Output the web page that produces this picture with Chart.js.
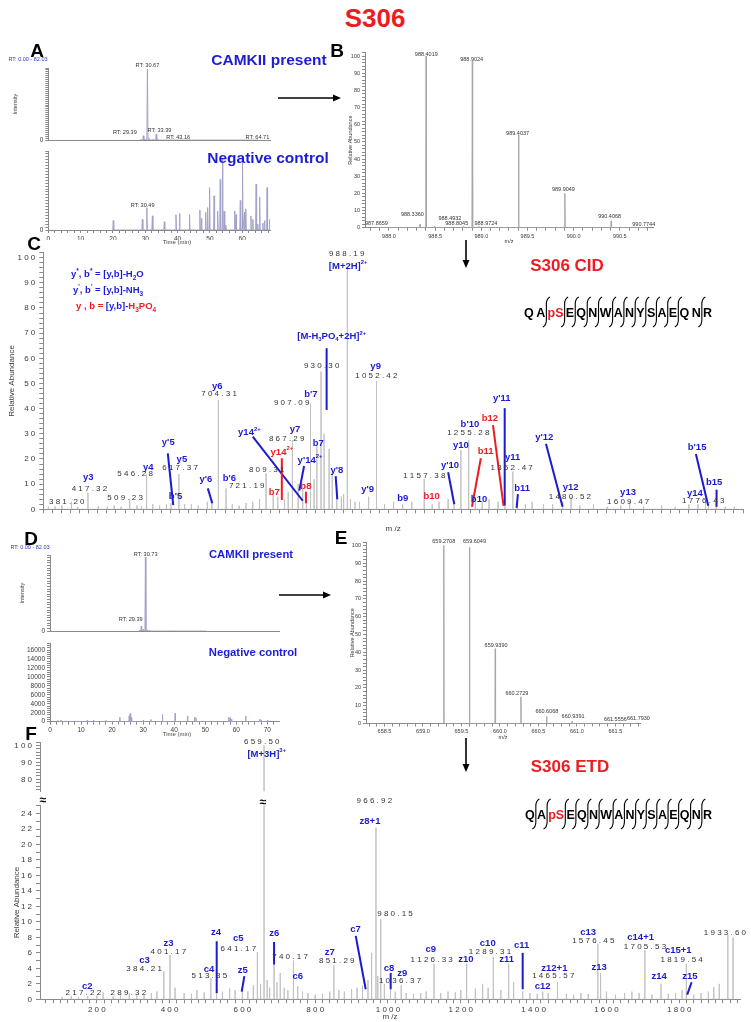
<!DOCTYPE html>
<html>
<head>
<meta charset="utf-8">
<title>S306</title>
<script src="https://cdn.jsdelivr.net/npm/chart.js@4.4.1/dist/chart.umd.min.js"></script>
<style>
  html, body { margin: 0; padding: 0; background: #fff; }
  #page { position: relative; width: 751px; height: 1022px; overflow: hidden; font-family: "Liberation Sans", Arial, sans-serif; }
  #page canvas { position: absolute; }
  #page svg { position: absolute; left: 0; top: 0; }
  .lbl { position: absolute; white-space: nowrap; transform: translate(-50%, -50%); line-height: 1; }
  .panel { font-weight: bold; font-size: 19px; color: #000; }
  .blue { color: #1d1dd8; font-weight: bold; }
  .red { color: #ee1b23; font-weight: bold; }
  .tiny { font-size: 5.5px; color: #444; }
  .legend { font-size: 9.5px; font-weight: bold; color: #1d1dd8; transform: translate(0, -50%); }
  .legend sub, .legend sup { font-size: 6.5px; line-height: 0; }
</style>
</head>
<body>
<div id="page"></div>
<script>
// ---------------- data ----------------
// A: extracted ion chromatograms, CAMKII present / negative control (min, intensity)
const rtA1 = [28.6, 29.39, 29.9, 30.67, 31.3, 32.4, 33.39, 34.1, 43.16, 64.71];
const intA1 = [15000, 110000, 25000, 1800000, 45000, 20000, 150000, 15000, 9000, 9000];
const rtA2 = [20.1, 29.1, 30.49, 32.2, 35.9, 39.5, 40.6, 43.7, 46.9, 47.4, 48.7, 49.3, 49.9, 51.3, 52.4, 53.2, 53.9, 54.4, 54.8,
              57.7, 58.1, 59.4, 60.1, 60.7, 61.1, 62.7, 63.3, 64.3, 64.8, 65.4, 66.4, 66.9, 67.7, 68.5];
const intA2 = [800, 900, 1900, 1200, 700, 1300, 1400, 1300, 1700, 1000, 1500, 1900, 3600, 2900, 1600, 4300, 6000, 1600, 400,
               1600, 1300, 2500, 6000, 1500, 1800, 1200, 900, 3900, 500, 2800, 600, 800, 3600, 900];
const rtLabelsA1 = [["RT: 30.67", 30.67, 1900000], ["RT: 29.39", 23.7, 195000], ["RT: 33.39", 34.4, 234000],
                    ["RT: 43.16", 40.2, 63000], ["RT: 64.71", 64.7, 77000]];
const rtLabelsA2 = [["RT: 30.49", 29.2, 2060]];

// B: precursor isotope cluster (m/z, relative abundance)
const mzB = [987.8659, 988.3360, 988.4019, 988.4932, 988.8045, 988.9024, 988.9724, 989.4037, 989.9049, 990.4068, 990.7744];
const abB = [0.5, 2, 100, 1, 0.6, 97, 0.8, 54, 20, 4, 0.4];
const labelsB = [["988.4019", 988.404, 101], ["988.9024", 988.896, 98.2], ["989.4037", 989.393, 55], ["989.9049", 989.89, 22],
                 ["990.4068", 990.39, 6.6], ["990.7744", 990.76, 2], ["987.8659", 987.864, 2.2], ["988.3360", 988.253, 7.8],
                 ["988.4932", 988.66, 5.5], ["988.8045", 988.734, 2.2], ["988.9724", 989.05, 2.6]];

// C: CID MS/MS spectrum
const mzC = [330, 345, 360, 381.20, 395, 417.32, 440, 460, 475, 490, 509.23, 525, 535, 546.28, 560, 575, 590, 600, 617.37, 630,
             645, 660, 680, 690, 704.31, 721.19, 735, 750, 765, 780, 795, 809.31, 825, 835, 850, 858, 867.29, 880, 890, 898,
             907.09, 915, 921, 930.30, 937, 948, 955, 965, 975, 980, 988.19, 995, 1005, 1015, 1035, 1052.42, 1070, 1090, 1110,
             1130, 1157.38, 1175, 1190, 1210, 1223, 1238, 1255.28, 1270, 1285, 1300, 1320, 1335, 1352.47, 1362, 1380, 1395,
             1420, 1440, 1462, 1480.52, 1500, 1530, 1560, 1590, 1609.47, 1640, 1680, 1710, 1740, 1760, 1776.43, 1783, 1800,
             1820, 1840];
const abC = [1, 1.2, 1.5, 3, 1, 6.5, 1.2, 1, 1.5, 1, 4, 1.5, 1.2, 14, 2, 1.5, 2, 2.5, 14, 2,
             2, 1.5, 3, 2.5, 43.5, 8.3, 2, 1.5, 2.5, 3, 4, 14.3, 6, 5, 4, 7, 27.5, 10, 8, 6,
             42, 12, 25, 54.7, 30, 24, 15, 8, 5, 6, 96, 4, 3, 3, 5, 51, 2, 3, 2,
             3, 12, 2, 3, 4, 2, 23.5, 27.5, 3, 3, 4, 3, 5, 15, 2, 2, 3,
             2, 2, 3, 5, 1.5, 2, 1, 1.5, 3, 1, 1.5, 1, 2, 2, 3, 2, 2,
             1, 1];
const valuesC = [["381.20", 370.6, 3.0], ["417.32", 420.5, 8.3], ["509.23", 499, 4.4], ["546.28", 521, 14.3],
                 ["617.37", 620, 16.3], ["704.31", 705.8, 45.8], ["721.19", 766.7, 9.3], ["809.31", 810.7, 15.6],
                 ["867.29", 854.7, 27.9], ["907.09", 865.7, 42.5], ["930.30", 931.7, 57.1], ["988.19", 986.7, 101.7],
                 ["1052.42", 1052, 53], ["1157.38", 1157.5, 13.4], ["1255.28", 1254.3, 30.4], ["1352.47", 1349.8, 16.5],
                 ["1480.52", 1478, 4.8], ["1609.47", 1606.3, 3], ["1776.43", 1771.4, 3.3]];
const ionsC = [["y3", 418, 12.7], ["y4", 550, 16.5], ["y'5", 594, 26.6], ["y5", 624, 20], ["b'5", 610, 5], ["y'6", 677, 12],
               ["y6", 702, 49], ["b'6", 728.5, 12.3], ["y14^{2+}", 772.5, 30.4], ["y7", 873, 31.8], ["b'7", 908, 45.8],
               ["b7", 924, 26.2], ["y'14^{2+}", 906, 19.6], ["[M-H_{3}PO_{4}+2H]^{2+}", 953.7, 68.6], ["[M+2H]^{2+}", 990, 96.7],
               ["y'8", 965, 15.6], ["y'9", 1033, 8], ["y9", 1050.5, 56.7], ["b9", 1110, 4.2], ["y'10", 1214, 17.5],
               ["y10", 1238, 25.3], ["b'10", 1258, 33.8], ["b10", 1278, 4], ["y'11", 1328, 44], ["y11", 1352, 20.5],
               ["b11", 1373, 8.3], ["y'12", 1421.6, 28.5], ["y12", 1479.5, 8.7], ["y13", 1606, 6.6], ["b'15", 1758, 24.6],
               ["b15", 1795.6, 10.7], ["y14", 1753, 6.4]];
const ionsCRed = [["y14^{2+}", 844, 22.6], ["b7", 827.5, 6.6], ["b8", 897, 9], ["b10", 1173.7, 5.3], ["b11", 1292.5, 23.2],
                  ["b12", 1302, 36.2]];
const leadersC = [[593, 22.2, 605, 1.7], [681, 8.3, 691, 2.4], [780, 28.9, 890, 3.4], [893, 17.2, 882.5, 7.4],
                  [942.6, 64, 942.6, 39.5], [962.5, 13.2, 966, 4], [1210, 14.7, 1223.5, 2], [1334.5, 40.2, 1334.5, 1.5],
                  [1363.6, 6, 1360.8, 0.6], [1425.3, 26, 1461.9, 1], [1755.3, 22, 1782.5, 1.4], [1800.8, 7.8, 1800.8, 1]];
const leadersCRed = [[844, 20.3, 844, 3.7], [897, 7, 897, 2.4], [1282, 20.3, 1262.5, 1], [1308.7, 33.4, 1332, 1.4]];

// D: chromatograms for the ETD precursor
const rtD1 = [28.8, 29.39, 30.0, 30.73, 31.4, 32.2, 40.5, 50];
const intD1 = [8000, 45000, 15000, 700000, 12000, 8000, 3000, 3000];
const rtD2 = [2.5, 3.5, 5, 9, 12, 14, 18, 22.5, 25.5, 25.8, 26.2, 30, 32.5, 36.2, 40.3, 44.3, 46.5, 47, 57.5, 58, 58.5, 63, 67.5, 68, 70];
const intD2 = [300, 400, 200, 200, 300, 400, 300, 1000, 1300, 1800, 900, 300, 500, 1600, 1900, 1300, 1000, 900, 1000, 900, 600, 1300, 600, 400, 300];
const rtLabelsD1 = [["RT: 30.73", 30.8, 729000], ["RT: 29.39", 26, 112000]];

// E: triply charged precursor isotope cluster
const mzE = [659.2708, 659.6049, 659.9390, 660.2729, 660.6068, 660.9391, 661.5556, 661.7930];
const abE = [100, 99, 42, 15, 4, 1.2, 0.5, 0.5];
const labelsE = [["659.2708", 659.27, 102.3], ["659.6049", 659.67, 102.3], ["659.9390", 659.95, 43.8], ["660.2729", 660.22, 17],
                 ["660.6068", 660.61, 7], ["660.9391", 660.95, 4], ["661.5556", 661.5, 2.5], ["661.7930", 661.8, 3]];

// F: ETD MS/MS spectrum (broken intensity axis)
const mzF = [105, 130, 150, 175, 200, 217.22, 245, 265, 289.32, 310, 330, 350, 365, 384.21, 401.17, 415, 440, 460, 475, 495,
             513.35, 529, 545, 565, 580, 600, 615, 630, 641.17, 650, 659.50, 668, 675, 687, 695, 704, 715, 725, 740.17, 752,
             765, 780, 800, 820, 840, 851.29, 865, 880, 900, 915, 930, 945, 955, 966.92, 972, 980.15, 990, 1007, 1020, 1036.37,
             1050, 1070, 1090, 1105, 1126.33, 1145, 1165, 1185, 1200, 1216, 1240, 1260, 1275, 1289.31, 1310, 1331.5, 1345, 1370,
             1390, 1410, 1425, 1440, 1465.57, 1490, 1510, 1530, 1550, 1576.45, 1584, 1600, 1625, 1650, 1670, 1690, 1705.53,
             1725, 1750, 1770, 1790, 1808, 1819.54, 1840, 1860, 1880, 1895, 1910, 1933.60, 1948];
const abF = [0.3, 0.4, 0.3, 0.4, 0.5, 0.9, 0.4, 0.5, 0.8, 0.5, 0.6, 0.8, 1.0, 3.6, 5.7, 1.5, 0.8, 0.7, 1.2, 0.9,
             2.7, 1.3, 1.0, 1.4, 1.2, 1.5, 1.0, 1.8, 6.1, 2.0, 100, 2.5, 1.5, 4.6, 2.2, 3.4, 1.5, 1.2, 5.0, 1.7,
             1.0, 0.8, 0.6, 0.7, 1.0, 4.4, 1.2, 1.0, 1.3, 1.5, 1.8, 2.5, 6.0, 22.2, 3.0, 10.4, 2.0, 1.5, 1.0, 1.8,
             0.8, 0.7, 0.8, 1.0, 4.6, 0.8, 1.0, 0.9, 1.2, 4.6, 1.4, 2.0, 1.5, 5.5, 1.2, 4.6, 2.2, 1.0,
             0.8, 0.7, 1.0, 0.8, 2.2, 0.7, 0.6, 0.8, 0.7, 7.2, 3.4, 1.0, 0.6, 0.8, 1.0, 0.8, 6.3,
             0.6, 2.0, 0.7, 0.8, 1.2, 4.6, 0.6, 0.8, 1.0, 1.6, 2.0, 8.3, 8.0];
const valuesF = [["217.22", 163.2, 0.9], ["289.32", 286.8, 0.9], ["384.21", 330, 3.9], ["401.17", 396.7, 6.2],
                 ["513.35", 509.3, 3.0], ["641.17", 588.9, 6.5], ["740.17", 730.9, 5.5], ["851.29", 859.2, 5.0],
                 ["966.92", 962.5, 25.7], ["980.15", 1019.3, 11], ["1036.37", 1033, 2.4], ["1126.33", 1120, 5.1],
                 ["1289.31", 1280.2, 6.1], ["1465.57", 1454, 3.0], ["1576.45", 1564, 7.5], ["1705.53", 1705.9, 6.8],
                 ["1819.54", 1806.7, 5.1], ["1933.60", 1925.6, 8.6]];
const valuesFTop = [["659.50", 653.2, 101.9]];
const ionsF = [["c2", 174, 1.7], ["c3", 331, 5], ["z3", 397, 7.2], ["c4", 508.4, 3.9], ["z4", 527.6, 8.6], ["c5", 588.9, 7.9],
               ["z5", 601, 3.7], ["z6", 687.8, 8.5], ["c6", 752, 3.0], ["z7", 840.3, 6.1], ["c7", 911, 9], ["z8+1", 950.6, 23],
               ["c8", 1003, 4], ["z9", 1039.4, 3.3], ["c9", 1117.4, 6.4], ["z10", 1214, 5.1], ["c10", 1274, 7.2], ["z11", 1326, 5.1],
               ["c11", 1367, 7], ["z12+1", 1457, 4], ["c12", 1425, 1.7], ["c13", 1550, 8.7], ["z13", 1580, 4.1], ["c14+1", 1694, 8],
               ["z14", 1745, 3], ["c15+1", 1797.4, 6.3], ["z15", 1829.5, 2.9]];
const ionsFTop = [["[M+3H]^{3+}", 666.9, 95]];
const leadersF = [[529.4, 7.5, 529.4, 0.8], [605.4, 3.0, 598.2, 1.0], [687, 7.4, 687, 4.5], [911.3, 8.2, 938.7, 1.3],
                  [1007.4, 3.4, 1007.4, 1.3], [1370, 6, 1370, 1.3], [1834, 2.2, 1822, 0.6]];

const peptide = ["Q", "A", "pS", "E", "Q", "N", "W", "A", "N", "Y", "S", "A", "E", "Q", "N", "R"];
const cidCleaved = [false, true, true, true, true, true, true, true, true, true, true, true, true, false, true];
const etdCleaved = [true, true, true, true, true, true, true, true, true, true, true, true, true, true, true];

// ---------------- helpers ----------------
const SANS = '"Liberation Sans", Arial, sans-serif';
const BLUE = '#1b1bd0';
const RED = '#ee1b23';
const AXIS = '#8a8a8a';
Chart.defaults.font.family = SANS;

const page = document.getElementById('page');

function spaced(s) { return String(s).split('').join(' '); }

function sticks(xs, ys, half) {
    const idx = xs.map((_, i) => i).sort((a, b) => xs[a] - xs[b]);
    const pts = [];
    idx.forEach(i => {
        pts.push({x: xs[i] - half, y: 0}, {x: xs[i], y: ys[i]}, {x: xs[i] + half, y: 0});
    });
    return pts;
}

function fontStr(size, bold) { return (bold ? 'bold ' : '') + size + 'px ' + SANS; }

// text with ^{sup} and _{sub} runs, centred on (x, y)
function drawRich(ctx, str, x, y, size, color, bold) {
    const parts = [];
    str.split(/(\^\{[^}]*\}|_\{[^}]*\})/).forEach(p => {
        if (!p) return;
        if (p.startsWith('^{')) parts.push({t: p.slice(2, -1), s: 0.62, dy: -0.38});
        else if (p.startsWith('_{')) parts.push({t: p.slice(2, -1), s: 0.62, dy: 0.28});
        else parts.push({t: p, s: 1, dy: 0});
    });
    const widths = parts.map(p => { ctx.font = fontStr(p.s * size, bold); return ctx.measureText(p.t).width; });
    let cx = x - widths.reduce((a, b) => a + b, 0) / 2;
    ctx.fillStyle = color;
    ctx.textAlign = 'left';
    ctx.textBaseline = 'middle';
    parts.forEach((p, i) => {
        ctx.font = fontStr(p.s * size, bold);
        ctx.fillText(p.t, cx, y + p.dy * size);
        cx += widths[i];
    });
}

// annotation plugin: labels and leader lines placed in data units
function marks(spec) {
    return {
        id: 'marks',
        afterDatasetsDraw(chart) {
            const ctx = chart.ctx, xs = chart.scales.x, ys = chart.scales.y;
            ctx.save();
            (spec.lines || []).forEach(g => {
                ctx.strokeStyle = g.color;
                ctx.lineWidth = g.width;
                g.items.forEach(l => {
                    ctx.beginPath();
                    ctx.moveTo(xs.getPixelForValue(l[0]), ys.getPixelForValue(l[1]));
                    ctx.lineTo(xs.getPixelForValue(l[2]), ys.getPixelForValue(l[3]));
                    ctx.stroke();
                });
            });
            (spec.texts || []).forEach(g => {
                g.items.forEach(t => {
                    const s = g.spaced ? spaced(t[0]) : t[0];
                    drawRich(ctx, s, xs.getPixelForValue(t[1]), ys.getPixelForValue(t[2]), g.size, g.color, g.bold);
                });
            });
            ctx.restore();
        }
    };
}

function isStep(v, every) { return Math.abs(v / every - Math.round(v / every)) < 1e-6; }

function axis(o) {
    const horiz = o.pos === 'bottom';
    return {
        type: 'linear', position: o.pos, min: o.min, max: o.max, display: o.display !== false,
        afterFit: s => { if (horiz) s.height = o.box; else s.width = o.box; },
        border: {display: true, color: AXIS, width: 1},
        grid: {display: true, drawOnChartArea: false, drawTicks: o.ticks !== false, tickLength: o.tickLen || 3, color: AXIS},
        ticks: {
            display: o.labels !== false, stepSize: o.step, autoSkip: false, includeBounds: false,
            maxRotation: 0, minRotation: 0, padding: o.pad == null ? 2 : o.pad,
            font: {size: o.size || 6.5}, color: '#3a3a3a',
            callback: v => isStep(v, o.every) ? o.fmt(v) : ''
        },
        title: o.title ? {display: true, text: o.title, font: {size: o.titleSize || 6}, color: '#3a3a3a',
                          padding: {top: o.titlePad || 0, bottom: 0}} : {display: false}
    };
}

// place a chart so that its plot area lands on [l, r] x [t, b] of the page
function plot(box, datasets, xo, yo, spec) {
    const L = Math.floor(box.l - box.yw), T = Math.floor(box.t - box.padT);
    const W = Math.ceil(box.r + box.padR) - L, H = Math.ceil(box.b + box.xh) - T;
    const c = document.createElement('canvas');
    c.width = W; c.height = H;
    c.style.left = L + 'px'; c.style.top = T + 'px';
    c.style.width = W + 'px'; c.style.height = H + 'px';
    page.appendChild(c);
    xo.pos = 'bottom'; xo.box = Math.ceil(box.b + box.xh) - box.b;
    yo.pos = 'left'; yo.box = box.l - L;
    return new Chart(c, {
        type: 'line',
        data: {datasets: datasets},
        options: {
            responsive: false, animation: false, devicePixelRatio: 1,
            layout: {padding: {left: 0, top: box.t - T, right: L + W - box.r, bottom: 0}},
            plugins: {legend: {display: false}, tooltip: {enabled: false}},
            elements: {point: {radius: 0}, line: {tension: 0}},
            scales: {x: axis(xo), y: axis(yo)}
        },
        plugins: [marks(spec || {})]
    });
}

function trace(pts, color, width) {
    return {data: pts, borderColor: color, borderWidth: width || 1, pointRadius: 0, fill: false};
}

const chromColor = '#a3a3c8';
const stickColor = '#c2c2c2';
const num = v => String(Math.round(v));
const fix1 = v => v.toFixed(1);
const sp = v => spaced(Math.round(v));
const rtText = items => ({items: items, size: 5.6, color: '#333'});

// ---------------- panel A ----------------
plot({l: 48.3, t: 68, r: 270, b: 146, yw: 48.3, xh: 0, padT: 12, padR: 6},
     [trace(sticks(rtA1, intA1, 0.18), chromColor)],
     {min: 0, max: 68.6, step: 2, every: 10, fmt: num, labels: false, ticks: false},
     {min: 0, max: 1830000, step: 50000, every: 200000, fmt: v => v <= 1600000 ? num(v) : '',
      title: 'Intensity', titleSize: 5.5, titlePad: 12},
     {texts: [rtText(rtLabelsA1)]});
plot({l: 48.3, t: 151, r: 270, b: 230, yw: 48.3, xh: 10, padT: 6, padR: 6},
     [trace(sticks(rtA2, intA2, 0.15), chromColor)],
     {min: 0, max: 68.6, step: 2, every: 10, fmt: num},
     {min: 0, max: 6700, step: 250, every: 1000, fmt: v => v <= 6000 ? num(v) : ''},
     {texts: [rtText(rtLabelsA2)]});

// ---------------- panel B ----------------
plot({l: 365, t: 52.6, r: 653, b: 227.7, yw: 25, xh: 17, padT: 10, padR: 30},
     [trace(sticks(mzB, abB, 0.004), '#a8a8a8')],
     {min: 987.74, max: 990.86, step: 0.1, every: 0.5, fmt: fix1, size: 5.5, title: 'm/z', titleSize: 5.5},
     {min: 0, max: 102, step: 2, every: 10, fmt: num, size: 5.5, title: 'Relative Abundance', titleSize: 5.5, titlePad: 7.4},
     {texts: [{items: labelsB, size: 5.5, color: '#333'}]});

// ---------------- panel C ----------------
plot({l: 43.3, t: 252.6, r: 743, b: 509.3, yw: 43.3, xh: 24, padT: 14, padR: 6},
     [trace(sticks(mzC, abC, 0), stickColor)],
     {min: 319, max: 1859, step: 20, every: 200, fmt: sp, size: 8, tickLen: 4, title: 'm /z', titleSize: 8},
     {min: 0, max: 102, step: 2, every: 10, fmt: sp, size: 8, tickLen: 4, pad: 4, title: 'Relative Abundance', titleSize: 8, titlePad: 7},
     {lines: [{items: leadersC, color: BLUE, width: 2}, {items: leadersCRed, color: RED, width: 2}],
      texts: [{items: valuesC, size: 8, color: '#333', spaced: true},
              {items: ionsC, size: 9.5, color: BLUE, bold: true},
              {items: ionsCRed, size: 9.5, color: RED, bold: true}]});

// ---------------- panel D ----------------
plot({l: 50, t: 555, r: 279.3, b: 636.7, yw: 50, xh: 0, padT: 12, padR: 6},
     [trace(sticks(rtD1, intD1, 0.15), chromColor)],
     {min: 0, max: 73.85, step: 2, every: 10, fmt: num, labels: false, ticks: false},
     {min: 0, max: 720000, step: 25000, every: 100000, fmt: v => v <= 700000 ? num(v) : '',
      title: 'Intensity', titleSize: 5.5, titlePad: 19},
     {texts: [rtText(rtLabelsD1)]});
plot({l: 50, t: 643.3, r: 279.3, b: 721.7, yw: 50, xh: 10, padT: 6, padR: 6},
     [trace(sticks(rtD2, intD2, 0.12), chromColor)],
     {min: 0, max: 73.85, step: 2, every: 10, fmt: num},
     {min: 0, max: 17500, step: 500, every: 2000, fmt: v => v <= 16000 ? num(v) : ''});

// ---------------- panel E ----------------
plot({l: 366, t: 542, r: 640, b: 723.5, yw: 25, xh: 17, padT: 10, padR: 25},
     [trace(sticks(mzE, abE, 0.004), '#a8a8a8')],
     {min: 658.26, max: 661.82, step: 0.1, every: 0.5, fmt: fix1, size: 5.5, title: 'm/z', titleSize: 5.5},
     {min: 0, max: 102, step: 2, every: 10, fmt: num, size: 5.5, title: 'Relative Abundance', titleSize: 5.5, titlePad: 8.4},
     {texts: [{items: labelsE, size: 5.5, color: '#333'}]});

// ---------------- panel F (broken axis: upper and lower parts) ----------------
const stickF = sticks(mzF, abF, 0);
plot({l: 40, t: 742, r: 740, b: 799.6, yw: 40, xh: 0, padT: 12, padR: 8},
     [trace(stickF, stickColor)],
     {min: 44, max: 1967, step: 20, every: 200, fmt: sp, display: false},
     {min: 73, max: 102, step: 2, every: 10, fmt: sp, size: 8, tickLen: 4, pad: 4},
     {texts: [{items: valuesFTop, size: 8, color: '#333', spaced: true},
              {items: ionsFTop, size: 9.5, color: BLUE, bold: true}]});
plot({l: 40, t: 805.2, r: 740, b: 999.3, yw: 40, xh: 22, padT: 8, padR: 8},
     [trace(stickF, stickColor)],
     {min: 44, max: 1967, step: 20, every: 200, fmt: sp, size: 8, tickLen: 4, title: 'm /z', titleSize: 8},
     {min: 0, max: 25, step: 1, every: 2, fmt: sp, size: 8, tickLen: 4, pad: 4, title: 'Relative Abundance', titleSize: 8, titlePad: 12},
     {lines: [{items: leadersF, color: BLUE, width: 2}],
      texts: [{items: valuesF, size: 8, color: '#333', spaced: true},
              {items: ionsF, size: 9.5, color: BLUE, bold: true}]});

// ---------------- text overlays ----------------
function label(html, x, y, cls, style) {
    const d = document.createElement('div');
    d.className = 'lbl ' + (cls || '');
    d.innerHTML = html;
    d.style.left = x + 'px';
    d.style.top = y + 'px';
    if (style) d.style.cssText += style;
    page.appendChild(d);
    return d;
}
label('S306', 375, 18, 'red', 'font-size:26px;');
[['A', 37, 50], ['B', 337, 50], ['C', 34, 243], ['D', 31, 538], ['E', 341, 537], ['F', 31, 733]]
    .forEach(p => label(p[0], p[1], p[2], 'panel'));
label('RT: <span style="color:#3333cc">0.00 - 82.03</span>', 28, 60, 'tiny');
label('RT: <span style="color:#3333cc">0.00 - 82.03</span>', 30, 548, 'tiny');
label('CAMKII present', 269, 60, 'blue', 'font-size:15.5px;');
label('Negative control', 268, 158, 'blue', 'font-size:15.5px;');
label('CAMKII present', 251, 555, 'blue', 'font-size:11.3px;');
label('Negative control', 253, 653, 'blue', 'font-size:11.3px;');
label('Time (min)', 177, 242, 'tiny', 'font-size:6px;');
label('Time (min)', 177, 734, 'tiny', 'font-size:6px;');
label('S306 CID', 567, 265, 'red', 'font-size:17px;');
label('S306 ETD', 570, 766, 'red', 'font-size:17px;');
label('y<sup>*</sup>, b<sup>*</sup> = [y,b]-H<sub>2</sub>O', 71, 274, 'legend');
label('y<sup>\'</sup>, b<sup>\'</sup> = [y,b]-NH<sub>3</sub>', 73, 290, 'legend');
label('<span style="color:' + RED + '">y , b =</span> [y,b]-<span style="color:' + RED + '">H<sub>3</sub>PO<sub>4</sub></span>', 76, 306, 'legend');
label('&#8776;', 43, 800, '', 'font-size:12px;font-weight:bold;');
label('&#8776;', 263, 802, '', 'font-size:12px;font-weight:bold;');

// ---------------- arrows and peptide sequences (svg) ----------------
const NS = 'http://www.w3.org/2000/svg';
const svg = document.createElementNS(NS, 'svg');
svg.setAttribute('width', 751);
svg.setAttribute('height', 1022);
page.appendChild(svg);
function el(name, attrs, text) {
    const e = document.createElementNS(NS, name);
    Object.keys(attrs).forEach(k => e.setAttribute(k, attrs[k]));
    if (text) e.textContent = text;
    svg.appendChild(e);
    return e;
}
function arrow(x1, y1, x2, y2) {
    const a = Math.atan2(y2 - y1, x2 - x1), hl = 8, hw = 3.5;
    const bx = x2 - hl * Math.cos(a), by = y2 - hl * Math.sin(a);
    el('line', {x1: x1, y1: y1, x2: bx, y2: by, stroke: '#000', 'stroke-width': 1.6});
    el('polygon', {points: [x2, y2, bx - hw * Math.sin(a), by + hw * Math.cos(a), bx + hw * Math.sin(a), by - hw * Math.cos(a)].join(' '), fill: '#000'});
}
arrow(278, 98, 341, 98);
arrow(279, 595, 331, 595);
arrow(466, 240, 466, 268);
arrow(466, 738, 466, 772);

const meas = document.createElement('canvas').getContext('2d');
function sequence(x0, x1, yc, cleaved) {
    const size = 12.5;
    meas.font = fontStr(size, true);
    const widths = peptide.map(r => meas.measureText(r).width);
    const nCut = cleaved.filter(Boolean).length, plainGap = 2.5;
    const total = widths.reduce((a, b) => a + b, 0);
    const cutGap = (x1 - x0 - total - plainGap * (cleaved.length - nCut)) / nCut;
    let x = x0;
    peptide.forEach((r, i) => {
        el('text', {x: x + widths[i] / 2, y: yc + size * 0.36, 'text-anchor': 'middle', 'font-family': SANS,
                    'font-weight': 'bold', 'font-size': size, fill: r === 'pS' ? RED : '#000'}, r);
        x += widths[i];
        if (i < cleaved.length) {
            if (cleaved[i]) {
                const bx = x + cutGap / 2;
                el('path', {d: `M ${bx + 3.5} ${yc - 15} Q ${bx} ${yc - 13} ${bx} ${yc - 8} L ${bx} ${yc + 8} Q ${bx} ${yc + 13} ${bx - 3.5} ${yc + 15}`,
                            fill: 'none', stroke: '#000', 'stroke-width': 1.1});
                x += cutGap;
            } else {
                x += plainGap;
            }
        }
    });
}
sequence(524, 712, 312, cidCleaved);
sequence(525, 712, 814, etdCleaved);
</script>
</body>
</html>
